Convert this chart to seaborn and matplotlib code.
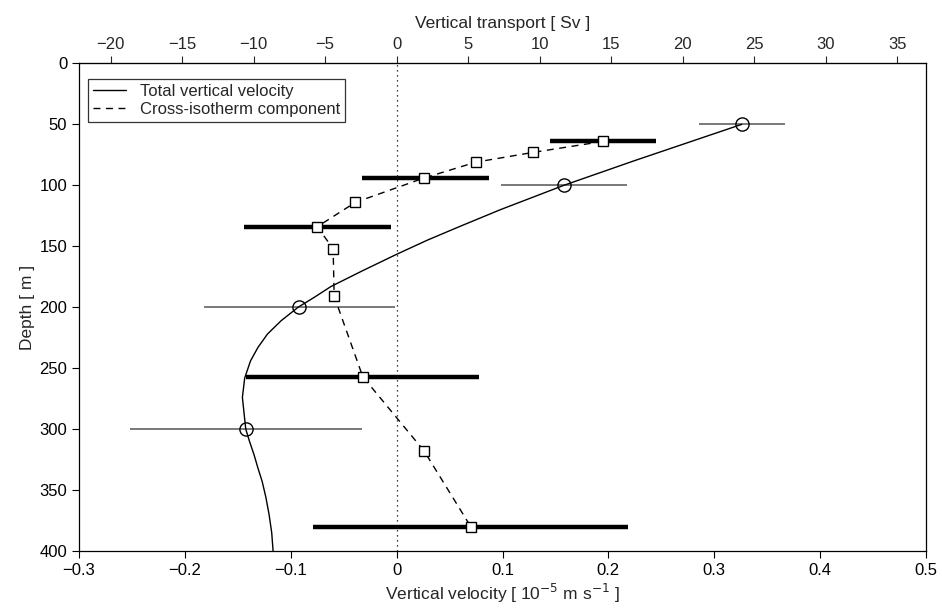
import numpy as np
import pandas as pd
import matplotlib
matplotlib.use("Agg")
import matplotlib.pyplot as plt
import seaborn as sns

# Total vertical velocity: curve (depth m, 1e-5 m/s)
curve_depth = [50, 60, 70, 80, 90, 100, 112, 120, 134, 145, 156.6, 170, 183, 192, 200, 211, 222,
               233, 244, 258, 274, 288, 300, 310, 321, 332, 343, 356, 370, 385, 400]
curve_vel = [0.326, 0.292, 0.258, 0.224, 0.191, 0.158, 0.122, 0.098, 0.059, 0.029, 0.0, -0.032,
             -0.062, -0.078, -0.093, -0.109, -0.122, -0.131, -0.138, -0.1435, -0.1457, -0.144,
             -0.1425, -0.139, -0.1347, -0.131, -0.127, -0.1235, -0.1205, -0.118, -0.1167]

# Total vertical velocity estimates with error ranges
total_depth = [50, 100, 200, 300]
total_vel = [0.326, 0.158, -0.092, -0.1425]
total_lo = [0.286, 0.099, -0.182, -0.252]
total_hi = [0.367, 0.218, -0.002, -0.033]

# Cross-isotherm component
cross_depth = [64, 73, 81, 94, 114, 134, 152, 191, 257, 318, 380]
cross_vel = [0.195, 0.129, 0.075, 0.026, -0.039, -0.075, -0.060, -0.059, -0.032, 0.026, 0.070]

# Cross-isotherm error ranges (thick bars)
bar_depth = [64, 94, 134, 257, 380]
bar_lo = [0.145, -0.033, -0.144, -0.142, -0.079]
bar_hi = [0.245, 0.087, -0.005, 0.078, 0.219]

SV_PER_UNIT = 74.0  # top-axis transport per unit of vertical velocity

sns.set_style("ticks")
plt.rcParams["font.family"] = ["Liberation Sans", "DejaVu Sans"]

fig = plt.figure(figsize=(9.42, 6.13), dpi=100)
ax = fig.add_axes([0.0839, 0.1011, 0.983 - 0.0839, 0.8966 - 0.1011])

ax.axvline(0, color="black", linestyle=(0, (1, 3)), linewidth=0.9, zorder=1)

# error bars
ax.hlines(total_depth, total_lo, total_hi, color="#555555", linewidth=1.1, zorder=2)
ax.hlines(bar_depth, bar_lo, bar_hi, color="black", linewidth=3.2, zorder=2)

curve = pd.DataFrame({"vel": curve_vel, "depth": curve_depth})
cross = pd.DataFrame({"vel": cross_vel, "depth": cross_depth})

sns.lineplot(data=curve, x="vel", y="depth", sort=False, estimator=None, ax=ax,
             color="black", linewidth=1.0, label="Total vertical velocity", zorder=3)
sns.lineplot(data=cross, x="vel", y="depth", sort=False, estimator=None, ax=ax,
             color="black", linewidth=1.0, linestyle=(0, (5, 4)),
             label="Cross-isotherm component", zorder=3)

ax.plot(total_vel, total_depth, linestyle="none", marker="o", markersize=9.5,
        markerfacecolor="none", markeredgecolor="black", markeredgewidth=1.0, zorder=4)
ax.plot(cross_vel, cross_depth, linestyle="none", marker="s", markersize=6.5,
        markerfacecolor="white", markeredgecolor="black", markeredgewidth=1.0, zorder=4)

ax.set_xlim(-0.3, 0.5)
ax.set_ylim(400, 0)
ax.set_xticks(np.arange(-0.3, 0.51, 0.1))
ax.set_xticklabels(["\u22120.3", "\u22120.2", "\u22120.1", "0", "0.1", "0.2", "0.3", "0.4", "0.5"])
ax.set_yticks(np.arange(0, 401, 50))
ax.tick_params(direction="out", length=5, width=0.8, labelsize=12, colors="black")
ax.tick_params(axis="y", right=False)

for s in ax.spines.values():
    s.set_visible(True)
    s.set_color("black")
    s.set_linewidth(0.9)

ax.set_xlabel("Vertical velocity [ 10$^{-5}$ m s$^{-1}$ ]", fontsize=12.5, labelpad=3)
ax.set_ylabel("Depth [ m ]", fontsize=12.5, labelpad=3)

top = ax.secondary_xaxis("top", functions=(lambda v: v * SV_PER_UNIT, lambda s: s / SV_PER_UNIT))
top.set_xticks(np.arange(-20, 36, 5))
top.tick_params(direction="out", length=5, width=0.8, labelsize=12)
top.set_xlabel("Vertical transport [ Sv ]", fontsize=12.5, labelpad=6)

leg = ax.legend(loc="upper left", bbox_to_anchor=(0.0106, 0.969), borderaxespad=0,
                fontsize=12, frameon=True, fancybox=False, handlelength=2.0,
                labelspacing=0.2, borderpad=0.3)
leg.get_frame().set_edgecolor("black")
leg.get_frame().set_linewidth(0.9)

fig.savefig("out.png", dpi=100)
plt.close(fig)
